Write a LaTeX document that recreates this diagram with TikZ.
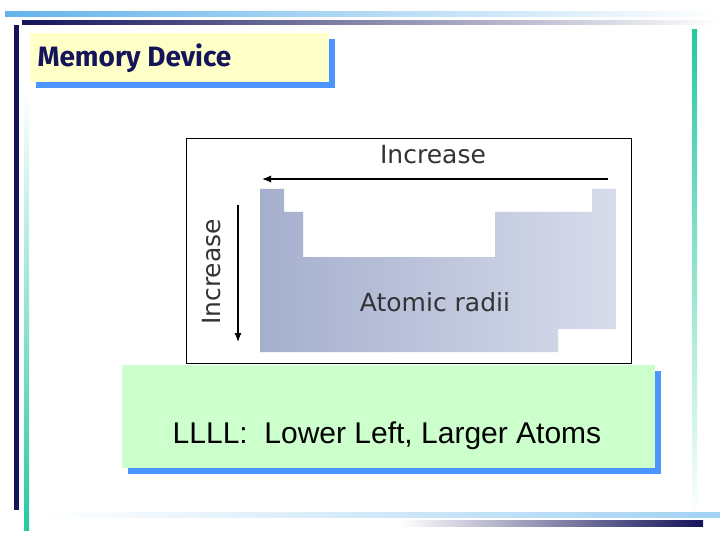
\documentclass[tikz,border=0pt]{standalone}
\usepackage{fontspec}
\usetikzlibrary{arrows.meta}
\setmainfont{Liberation Sans}
\newfontfamily\titlefont{Fira Sans}
\newfontfamily\tabfont{DejaVu Sans}
\begin{document}
\begin{tikzpicture}[x=1pt,y=-1pt,
  shadowblue/.style={fill=blue!60!cyan!70!white},
  lbl/.style={font=\tabfont\fontsize{25}{25}\selectfont, text=black!80}]
\definecolor{navy}{RGB}{20,20,90}
\definecolor{sky}{RGB}{100,180,235}
\definecolor{teal2}{RGB}{40,200,160}
\definecolor{pale}{RGB}{255,255,200}
\definecolor{mint}{RGB}{204,255,204}
\definecolor{tabL}{RGB}{165,175,205}
\definecolor{tabR}{RGB}{215,220,235}
\useasboundingbox (0,0) rectangle (720,540);
% frame lines
\shade[left color=sky,right color=white] (5,12) rectangle (720,17);
\shade[left color=navy,right color=white] (22,21) rectangle (720,25);
\fill[navy] (14,25) rectangle (19,510);
\shade[top color=white,bottom color=teal2] (24,90) rectangle (29,530);
\shade[top color=teal2,bottom color=white] (692,30) rectangle (697,520);
\shade[left color=white,right color=sky!60] (40,512) rectangle (720,517);
\shade[left color=white,right color=navy] (400,520) rectangle (703,526);
% title
\fill[shadowblue] (36,39) rectangle (335,88);
\fill[pale] (30,33) rectangle (329,82);
\node[anchor=west,text=navy,font=\titlefont\bfseries\fontsize{28}{28}\selectfont] (title) at (34,58) {Memory Device};
% table image
\draw[black,line width=0.8pt,fill=white] (186,138) rectangle (631,363);
\shade[left color=tabL,right color=tabR]
 (260,189) -- (284,189) -- (284,212) -- (303,212) -- (303,257) -- (495,257) -- (495,212)
 -- (592,212) -- (592,189) -- (616,189) -- (616,329) -- (558,329) -- (558,352) -- (260,352) -- cycle;
\coordinate (ha) at (608,179); \coordinate (hb) at (262,179);
\coordinate (va) at (238,205); \coordinate (vb) at (238,342);
\draw[line width=1.2pt,-{Latex[length=9pt,width=7pt]}] (ha) -- (hb);
\draw[line width=1.2pt,-{Latex[length=9pt,width=7pt]}] (va) -- (vb);
\node[lbl] (inc1) at (433,155) {Increase};
\node[lbl,rotate=90] (inc2) at (212,272) {Increase};
\node[lbl] (rad) at (435,302) {Atomic radii};
% bottom box
\fill[shadowblue] (128,371) rectangle (661,474);
\fill[mint] (122,365) rectangle (655,468);
\node[font=\fontsize{30}{30}\selectfont] (ll) at (387,436) {LLLL:\ \ Lower Left, Larger Atoms};
\end{tikzpicture}
\end{document}
